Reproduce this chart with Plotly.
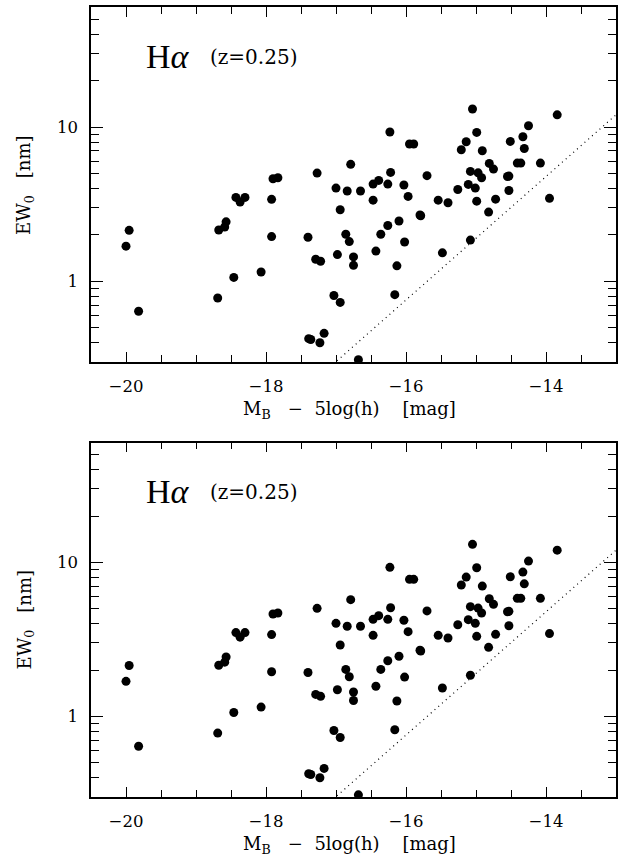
import numpy as np
import plotly.graph_objects as go

# ---- data ----
mag = [-20.00, -19.955, -19.82, -18.69, -18.675, -18.59, -18.57, -18.46, -18.43, -18.37,
       -18.30, -18.07, -17.92, -17.92, -17.90, -17.83, -17.40, -17.39, -17.36, -17.29,
       -17.27, -17.23, -17.22, -17.17, -17.03, -17.00, -16.98, -16.94, -16.94, -16.86,
       -16.84, -16.81, -16.79, -16.75, -16.75, -16.68, -16.65, -16.47, -16.47, -16.43,
       -16.39, -16.36, -16.26, -16.26, -16.23, -16.22, -16.16, -16.13, -16.10, -16.03,
       -16.02, -15.97, -15.95, -15.89, -15.80, -15.79, -15.70, -15.54, -15.48, -15.40,
       -15.26, -15.21, -15.14, -15.11, -15.08, -15.08, -15.05, -15.01, -14.99, -14.99,
       -14.97, -14.92, -14.91, -14.82, -14.81, -14.75, -14.72, -14.55, -14.53, -14.53,
       -14.51, -14.41, -14.36, -14.33, -14.31, -14.25, -14.08, -13.95, -13.84]
ew = [1.69, 2.14, 0.64, 0.78, 2.15, 2.25, 2.43, 1.06, 3.50, 3.27,
      3.50, 1.15, 1.95, 3.40, 4.62, 4.69, 1.93, 0.425, 0.42, 1.39,
      5.03, 0.40, 1.35, 0.46, 0.81, 4.02, 1.49, 2.91, 0.73, 2.02,
      3.85, 1.81, 5.73, 1.44, 1.27, 0.31, 3.85, 3.36, 4.27, 1.57,
      4.51, 2.02, 2.30, 4.27, 9.29, 5.08, 0.82, 1.26, 2.46, 4.21,
      1.80, 3.55, 7.76, 7.76, 2.69, 2.66, 4.84, 3.36, 1.53, 3.23,
      3.94, 7.13, 8.03, 4.25, 5.16, 1.85, 13.1, 4.02, 9.23, 3.31,
      5.05, 4.69, 7.02, 2.81, 5.81, 5.34, 3.41, 4.78, 4.81, 3.88,
      8.07, 5.84, 5.84, 8.65, 7.26, 10.2, 5.84, 3.45, 12.0]

# detection-limit line: EW = limit_ew * 10**(0.4*(M - limit_mag))
limit_mag = -13.0
limit_ew = 12.0
line_mag = np.array([-17.2, -13.0])
line_ew = limit_ew * 10 ** (0.4 * (line_mag - limit_mag))

x_ticks = [-20, -18, -16, -14]
x_minor = [v / 2 for v in range(-41, -25)]
y_ticks = [1, 10]
y_ticktext = ["1", "10"]
y_minor = [0.3, 0.4, 0.5, 0.6, 0.7, 0.8, 0.9, 2, 3, 4, 5, 6, 7, 8, 9, 20, 30, 40, 50]

W, H = 618, 856
SERIF = "DejaVu Serif"

fig = go.Figure()
for i, ax in enumerate(["", "2"]):
    fig.add_trace(go.Scatter(x=line_mag, y=line_ew, mode="lines",
                             line=dict(color="black", width=1.2, dash="1px,4px"),
                             xaxis="x" + ax, yaxis="y" + ax, showlegend=False,
                             hoverinfo="skip"))
    fig.add_trace(go.Scatter(x=mag, y=ew, mode="markers",
                             marker=dict(color="black", size=9, line=dict(width=0)),
                             xaxis="x" + ax, yaxis="y" + ax, showlegend=False,
                             cliponaxis=True))

xdom = [91 / W, 616 / W]
ydoms = [[1 - 362 / H, 1 - 7 / H], [1 - 797 / H, 1 - 442.5 / H]]

axis_common = dict(showline=True, linecolor="black", linewidth=1.5, mirror="ticks",
                   ticks="inside", tickcolor="black", tickwidth=1.3,
                   showgrid=False, zeroline=False,
                   tickfont=dict(family=SERIF, size=16.5, color="black"))

layout = dict(width=W, height=H, margin=dict(l=0, r=0, t=0, b=0),
              paper_bgcolor="white", plot_bgcolor="white", showlegend=False)

annotations = []
for i, ax in enumerate(["", "2"]):
    xa = dict(axis_common, domain=xdom, range=[-20.5, -13.0], anchor="y" + ax,
              tickmode="array", tickvals=x_ticks, ticklen=10, ticklabelstandoff=8,
              minor=dict(tickmode="array", tickvals=x_minor, ticks="inside",
                         ticklen=7, tickcolor="black", tickwidth=1.3))
    ya = dict(axis_common, domain=ydoms[i], type="log",
              range=[np.log10(0.3), np.log10(60)], anchor="x" + ax,
              tickmode="array", tickvals=y_ticks, ticktext=y_ticktext,
              ticklen=12, ticklabelstandoff=8,
              minor=dict(tickmode="array", tickvals=y_minor, ticks="inside",
                         ticklen=8, tickcolor="black", tickwidth=1.3))
    layout["xaxis" + ax] = xa
    layout["yaxis" + ax] = ya

    off = i * 434.5
    annotations += [
        dict(text="H<i>α</i>", x=144 / W, y=1 - (57 + off) / H, xref="paper", yref="paper",
             xanchor="left", yanchor="middle", showarrow=False,
             font=dict(family="Liberation Serif", size=34, color="black")),
        dict(text="(z=0.25)", x=208 / W, y=1 - (57 + off) / H, xref="paper", yref="paper",
             xanchor="left", yanchor="middle", showarrow=False,
             font=dict(family=SERIF, size=20, color="black")),
        dict(text="M<sub>B</sub>&nbsp;&nbsp;&nbsp;−&nbsp;&nbsp;5log(h)&nbsp;&nbsp;&nbsp;&nbsp;[mag]",
             x=349 / W, y=1 - (410 + off) / H, xref="paper", yref="paper",
             xanchor="center", yanchor="middle", showarrow=False,
             font=dict(family=SERIF, size=18, color="black")),
        dict(text="EW<sub>0</sub>&nbsp;&nbsp;&nbsp;[nm]", x=25 / W, y=1 - (185 + off) / H,
             xref="paper", yref="paper", xanchor="center", yanchor="middle",
             showarrow=False, textangle=-90,
             font=dict(family=SERIF, size=18, color="black")),
    ]

layout["annotations"] = annotations
fig.update_layout(**layout)
fig.write_html("out.html", config={"displayModeBar": False},
               post_script="document.body.style.margin='0px';document.body.style.overflow='hidden';")
